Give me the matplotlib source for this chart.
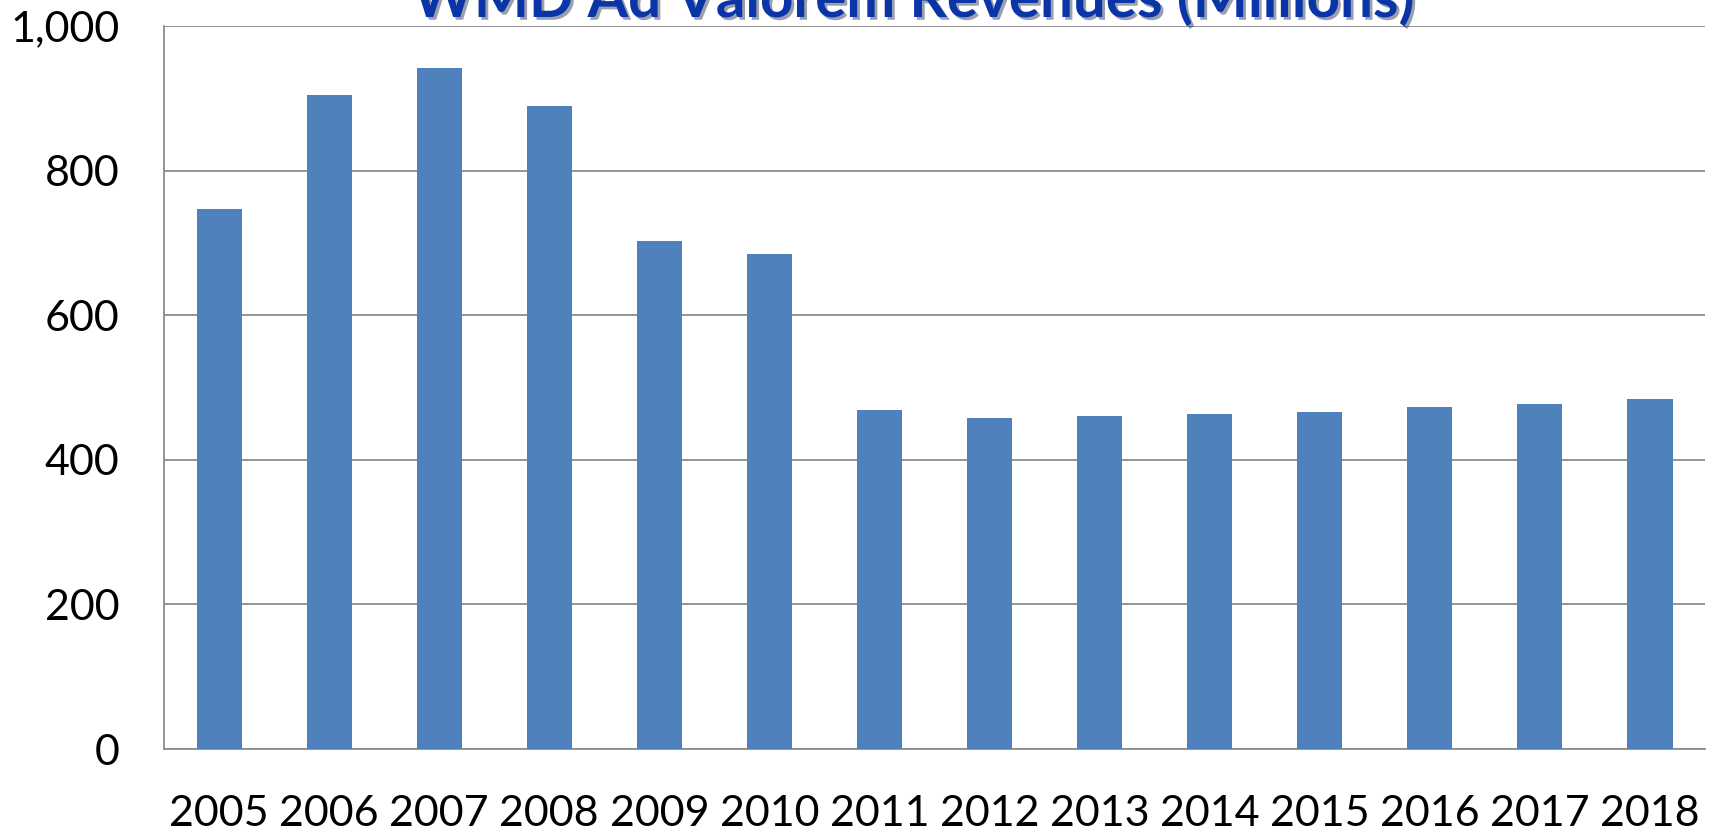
import numpy as np
import matplotlib
matplotlib.use('Agg')
import matplotlib.pyplot as plt
import matplotlib.patheffects as pe

# Revenue data (millions)
years = ['2005', '2006', '2007', '2008', '2009', '2010', '2011',
         '2012', '2013', '2014', '2015', '2016', '2017', '2018']
revenues = [747, 905, 942, 889, 702, 684, 469, 458, 461, 463, 466, 473, 477, 484]
yticks = [0, 200, 400, 600, 800, 1000]
title = 'WMD Ad Valorem Revenues (Millions)'

plt.rcParams['font.family'] = ['Lato', 'DejaVu Sans']

fig = plt.figure(figsize=(17.16, 8.33), dpi=100)
ax = fig.add_axes([0.0956, 0.1008, 0.898, 0.868])

x = np.arange(len(years))
ax.bar(x, revenues, width=0.41, color='#4F81BD', zorder=3)

ax.set_xlim(-0.5, len(years) - 0.5)
ax.set_ylim(0, 1000)
ax.set_yticks(yticks)
ax.set_yticklabels([f'{v:,}' for v in yticks])
ax.set_xticks(x)
ax.set_xticklabels(years)

ax.yaxis.grid(True, color='#8C8C8C', linewidth=1.3, zorder=0)
for s in ['top', 'right']:
    ax.spines[s].set_visible(False)
for s in ['left', 'bottom']:
    ax.spines[s].set_color('#8C8C8C')
    ax.spines[s].set_linewidth(1.3)
ax.tick_params(axis='y', length=0, pad=32, labelsize=31)
ax.tick_params(axis='x', length=0, pad=33, labelsize=31)

fig.text(0.5326, 0.9796, title, ha='center', va='baseline', fontsize=42,
         fontweight='bold', color='#0A35A8',
         path_effects=[pe.withSimplePatchShadow(offset=(2, -2), alpha=0.4)])

fig.savefig('out.png', dpi=100)
